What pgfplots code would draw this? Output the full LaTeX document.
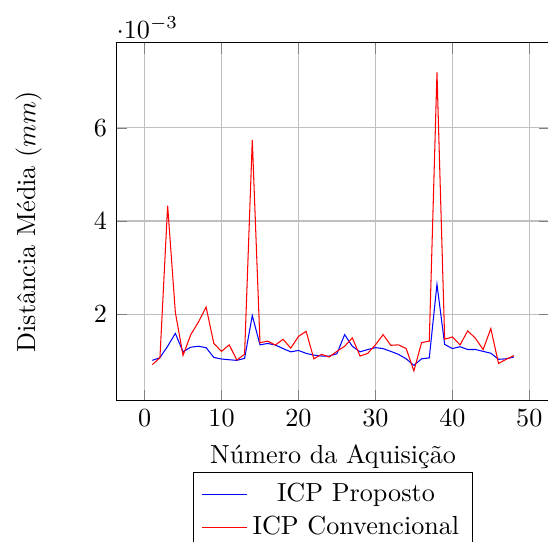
\documentclass[border=0pt]{standalone}
\usepackage{pgfplots}
\pgfplotsset{compat=1.18}
\begin{document}
\begin{tikzpicture}
\begin{axis}[
    scale only axis,
    width=166pt, height=137pt,
    xlabel={Número da Aquisição},
    ylabel={Distância Média ($mm$)},
    ylabel style={yshift=13pt},
    grid=major,
    every y tick scale label/.style={at={(rel axis cs:0,1)}, anchor=south west,
        inner xsep=0pt, inner ysep=1.5pt},
    legend cell align=center,
    legend style={at={(0.5,-0.2)}, anchor=north},
    ]
    \addplot[blue] coordinates {
    (1,1.007e-3) (2,1.064e-3) (3,1.31e-3) (4,1.586e-3) (5,1.19e-3)
    (6,1.29e-3) (7,1.31e-3) (8,1.28e-3) (9,1.07e-3) (10,1.036e-3)
    (11,1.02e-3) (12,1.007e-3) (13,1.05e-3) (14,1.97e-3) (15,1.34e-3)
    (16,1.37e-3) (17,1.336e-3) (18,1.26e-3) (19,1.19e-3) (20,1.22e-3)
    (21,1.157e-3) (22,1.12e-3) (23,1.1e-3) (24,1.1e-3) (25,1.15e-3)
    (26,1.56e-3) (27,1.31e-3) (28,1.19e-3) (29,1.24e-3) (30,1.28e-3)
    (31,1.26e-3) (32,1.2e-3) (33,1.136e-3) (34,1.04e-3) (35,0.9e-3)
    (36,1.04e-3) (37,1.06e-3) (38,2.64e-3) (39,1.35e-3) (40,1.26e-3)
    (41,1.3e-3) (42,1.24e-3) (43,1.24e-3) (44,1.2e-3) (45,1.16e-3)
    (46,1.03e-3) (47,1.04e-3) (48,1.08e-3)
    };
    \addlegendentry{ICP Proposto}
    \addplot[red] coordinates {
    (1,0.914e-3) (2,1.064e-3) (3,4.33e-3) (4,2.04e-3) (5,1.114e-3)
    (6,1.557e-3) (7,1.83e-3) (8,2.15e-3) (9,1.37e-3) (10,1.2e-3)
    (11,1.34e-3) (12,1.014e-3) (13,1.14e-3) (14,5.74e-3) (15,1.386e-3)
    (16,1.42e-3) (17,1.336e-3) (18,1.46e-3) (19,1.27e-3) (20,1.52e-3)
    (21,1.63e-3) (22,1.04e-3) (23,1.136e-3) (24,1.08e-3) (25,1.2e-3)
    (26,1.31e-3) (27,1.49e-3) (28,1.1e-3) (29,1.157e-3) (30,1.34e-3)
    (31,1.56e-3) (32,1.33e-3) (33,1.34e-3) (34,1.26e-3) (35,0.78e-3)
    (36,1.39e-3) (37,1.42e-3) (38,7.19e-3) (39,1.46e-3) (40,1.51e-3)
    (41,1.34e-3) (42,1.64e-3) (43,1.48e-3) (44,1.24e-3) (45,1.69e-3)
    (46,0.94e-3) (47,1.03e-3) (48,1.11e-3)
    };
    \addlegendentry{ICP Convencional}
\end{axis}
\pgfresetboundingbox
\path[use as bounding box] ([xshift=-44.4pt,yshift=-53.7pt]current axis.south west)
    rectangle ([xshift=-0.8pt,yshift=16.3pt]current axis.north east);
\end{tikzpicture}
\end{document}
